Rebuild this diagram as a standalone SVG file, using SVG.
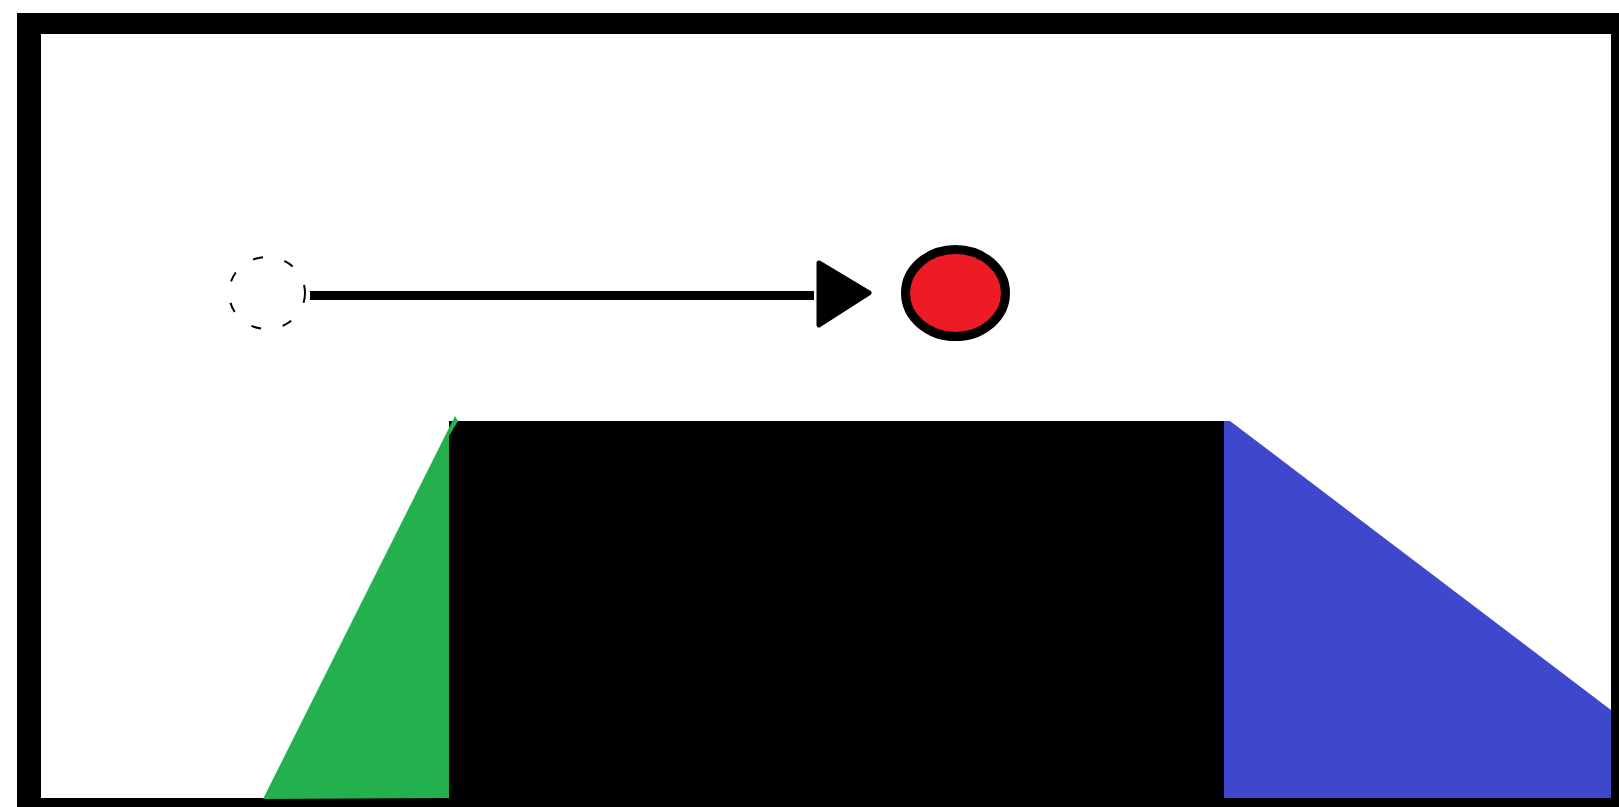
<svg xmlns="http://www.w3.org/2000/svg" width="1619" height="807" viewBox="0 0 1619 807">
<style>
.frame{fill:#000}
.connector{stroke:#000;stroke-width:9;fill:none}
</style>
<rect x="0" y="0" width="1619" height="807" fill="#fff"/>
<rect class="frame" x="17" y="13" width="1602" height="794"/>
<rect x="41" y="34" width="1570" height="764" fill="#fff"/>
<g id="block">
<rect x="449" y="421" width="775" height="377" fill="#000"/>
</g>
<g id="green-ramp">
<polygon points="263,799 455,416 458,421 449,436 449,798" fill="#22B14C"/>
</g>
<g id="blue-ramp">
<polygon points="1224,421 1230,421 1611,710 1611,798 1224,798" fill="#3F48CC"/>
</g>
<g id="start">
<ellipse cx="267" cy="293" rx="38" ry="36" fill="none" stroke="#000" stroke-width="2" stroke-dasharray="10,22"/>
</g>
<g id="connectors">
<line class="connector" x1="310" y1="295.5" x2="814" y2="295.5"/>
<polygon points="819,263 869,293 819,325" fill="#000" stroke="#000" stroke-width="5" stroke-linejoin="round"/>
</g>
<g id="end">
<ellipse cx="955.5" cy="293" rx="50" ry="43.5" fill="#ED1C24" stroke="#000" stroke-width="9"/>
</g>
</svg>
